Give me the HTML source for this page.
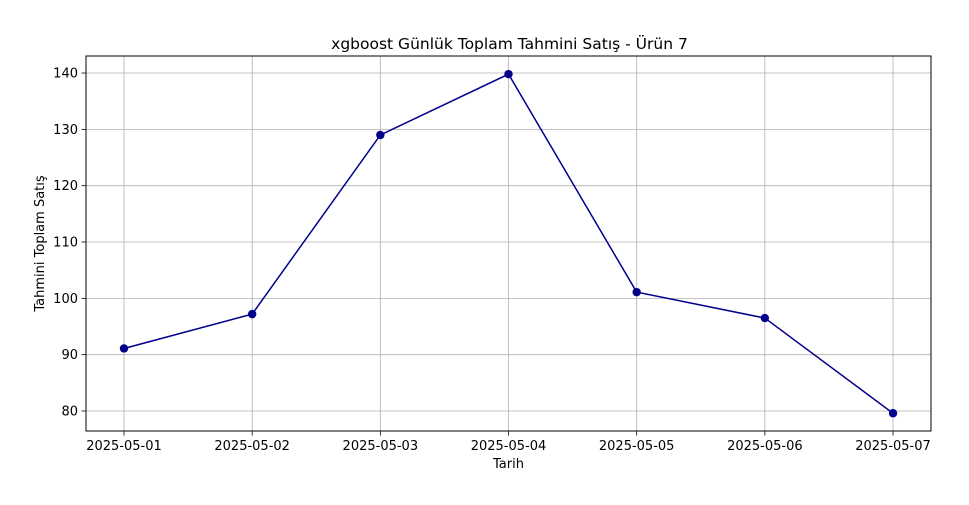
<!DOCTYPE html>
<html><head><meta charset="utf-8"><style>
body{margin:0;background:#fff;}
svg{display:block;font-family:"DejaVu Sans","Liberation Sans",sans-serif;}
</style></head><body>
<svg id="chart" width="969" height="505" xmlns="http://www.w3.org/2000/svg">
<rect x="0" y="0" width="969" height="505" fill="#fff"/>
<text x="509.5" y="49" font-size="15.5" text-anchor="middle" fill="#000">xgboost Günlük Toplam Tahmini Satış - Ürün 7</text>
<text x="508.5" y="468" font-size="13" text-anchor="middle" fill="#000">Tarih</text>
<text x="0" y="0" font-size="13" text-anchor="middle" fill="#000" transform="translate(44,243.5) rotate(-90)">Tahmini Toplam Satış</text>
<g id="grid"></g>
<g id="ticks"></g>
<g id="series"></g>
<rect x="86" y="56" width="845" height="375" fill="none" stroke="#000" stroke-width="1"/>
</svg>
<script>
const categories = ["2025-05-01","2025-05-02","2025-05-03","2025-05-04","2025-05-05","2025-05-06","2025-05-07"];
const values = [91.1, 97.2, 129.0, 139.8, 101.1, 96.5, 79.6];
const yTicks = [80, 90, 100, 110, 120, 130, 140];
const NS = "http://www.w3.org/2000/svg";
const x0 = 124, xStep = 128.17;
function xScale(i){ return x0 + i * xStep; }
function yScale(v){ return 411 - (v - 80) * 5.633; }
function mk(tag, attrs, parent){ const e = document.createElementNS(NS, tag); for (const k in attrs) e.setAttribute(k, attrs[k]); parent.appendChild(e); return e; }
const grid = document.getElementById('grid'), ticks = document.getElementById('ticks'), series = document.getElementById('series');
categories.forEach((c, i) => {
  const x = xScale(i);
  const g = mk('line', {x1:x, x2:x, y1:56, y2:431, stroke:'#b0b0b0', 'stroke-width':0.8}, grid);
  
  
  const t = mk('line', {x1:x, x2:x, y1:431, y2:435.5, stroke:'#000', 'stroke-width':0.8}, ticks);
  
  
  const l = mk('text', {x:x, y:450, 'font-size':13, 'text-anchor':'middle', fill:'#000'}, ticks);
  l.textContent = c;
  
  
});
yTicks.forEach(v => {
  const y = yScale(v);
  const g = mk('line', {x1:86, x2:931, y1:y, y2:y, stroke:'#b0b0b0', 'stroke-width':0.8}, grid);
  
  
  const t = mk('line', {x1:81.5, x2:86, y1:y, y2:y, stroke:'#000', 'stroke-width':0.8}, ticks);
  
  
  const l = mk('text', {x:78, y:y+4.5, 'font-size':13, 'text-anchor':'end', fill:'#000'}, ticks);
  l.textContent = v;
  
  
});
const pts = values.map((v, i) => xScale(i) + ',' + yScale(v)).join(' ');
const line = mk('polyline', {points:pts, fill:'none', stroke:'#00008b', 'stroke-width':1.5}, series);


values.forEach((v, i) => {
  const c = mk('circle', {cx:xScale(i), cy:yScale(v), r:4.2, fill:'#00008b'}, series);
  
  
});
</script>
</body></html>
